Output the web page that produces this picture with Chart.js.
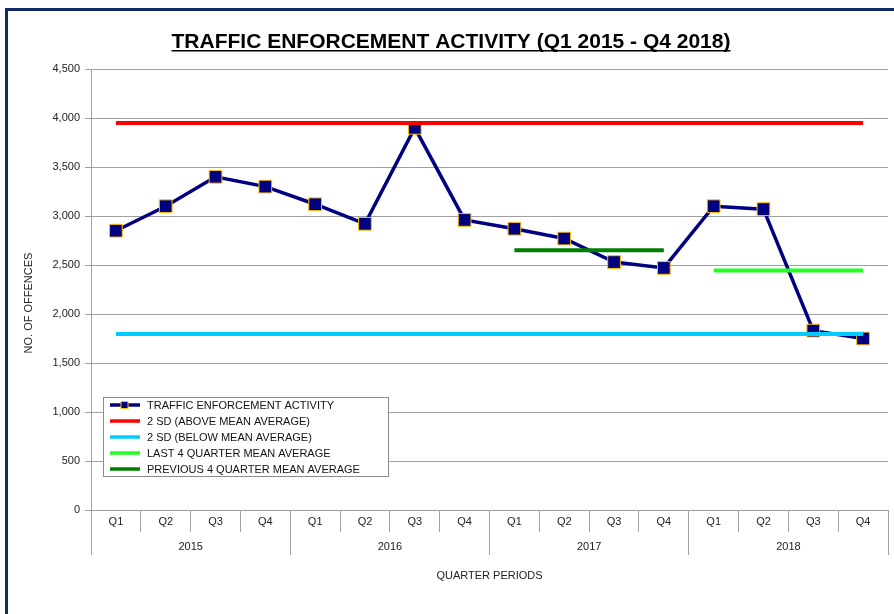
<!DOCTYPE html>
<html>
<head>
<meta charset="utf-8">
<script src="https://cdn.jsdelivr.net/npm/chart.js@4/dist/chart.umd.min.js"></script>
<style>
html, body { margin: 0; padding: 0; background: #fff; }
#wrap { width: 894px; height: 614px; }
</style>
</head>
<body>
<div id="wrap"><canvas id="grafico" width="894" height="614"></canvas></div>
<script>
// datos
const trimestres = ["Q1","Q2","Q3","Q4","Q1","Q2","Q3","Q4","Q1","Q2","Q3","Q4","Q1","Q2","Q3","Q4"];
const anios = ["2015","2016","2017","2018"];
const actividad = [2850,3100,3400,3300,3120,2920,3900,2960,2870,2770,2530,2470,3100,3070,1830,1750];
const sdArriba = [3950,3950,3950,3950,3950,3950,3950,3950,3950,3950,3950,3950,3950,3950,3950,3950];
const sdAbajo = [1795,1795,1795,1795,1795,1795,1795,1795,1795,1795,1795,1795,1795,1795,1795,1795];
const ultimos4 = [null,null,null,null,null,null,null,null,null,null,null,null,2445,2445,2445,2445];
const previos4 = [null,null,null,null,null,null,null,null,2650,2650,2650,2650,null,null,null,null];
const yTicks = [0,500,1000,1500,2000,2500,3000,3500,4000,4500];

const fuente = '"Liberation Sans", Arial, sans-serif';
const gris = "#a0a0a0";

const marco = {
id: "marco",
beforeDraw(chart){
const ctx = chart.ctx;
ctx.save();
ctx.fillStyle = "#fff";
ctx.fillRect(0,0,chart.width,chart.height);
ctx.fillStyle = "#0f2b6e";
ctx.fillRect(5,8,3,chart.height-8);
ctx.fillRect(5,8,chart.width-5,3);
ctx.restore();
},
afterDraw(chart){
const ctx = chart.ctx;
ctx.save();
// titulo subrayado
const titulo = "TRAFFIC ENFORCEMENT ACTIVITY (Q1 2015 - Q4 2018)";
ctx.font = "bold 21px " + fuente;
ctx.fillStyle = "#000";
ctx.textAlign = "center";
ctx.textBaseline = "alphabetic";
ctx.fillText(titulo, 451, 48);
const w = ctx.measureText(titulo).width;
ctx.fillRect(451 - w/2, 50, w, 1.5);

// titulo del eje y
ctx.save();
ctx.translate(29, 303);
ctx.rotate(-Math.PI/2);
ctx.font = "11px " + fuente;
ctx.fillStyle = "#222";
ctx.textBaseline = "middle";
ctx.fillText("NO. OF OFFENCES", 0, 0);
ctx.restore();

// leyenda
const items = chart.data.datasets;
const x0 = 103, y0 = 397, ancho = 285, alto = 79;
ctx.fillStyle = "#fff";
ctx.fillRect(x0,y0,ancho,alto);
ctx.strokeStyle = "#8c8c8c";
ctx.lineWidth = 1;
ctx.strokeRect(x0+0.5,y0+0.5,ancho,alto);
ctx.font = "11px " + fuente;
ctx.textAlign = "left";
ctx.textBaseline = "middle";
items.forEach((ds,i) => {
const y = y0 + 8 + i*16;
ctx.strokeStyle = ds.borderColor;
ctx.lineWidth = 3.5;
ctx.beginPath();
ctx.moveTo(110,y);
ctx.lineTo(140,y);
ctx.stroke();
if(ds.pointRadius > 0){
ctx.fillStyle = ds.pointBackgroundColor;
ctx.fillRect(121,y-3.5,7,7);
ctx.strokeStyle = ds.pointBorderColor;
ctx.lineWidth = 1;
ctx.strokeRect(121,y-3.5,7,7);
}
ctx.fillStyle = "#111";
ctx.fillText(ds.label, 147, y+0.5);
});
ctx.restore();
}
};

const config = {
type: "line",
data: {
labels: trimestres,
datasets: [
{
label: "TRAFFIC ENFORCEMENT ACTIVITY",
data: actividad,
borderColor: "#000080",
borderWidth: 3.5,
pointStyle: "rect",
pointRadius: 9,
pointBackgroundColor: "#000080",
pointBorderColor: "#ffc000",
pointBorderWidth: 1,
order: 5
},
{
label: "2 SD (ABOVE MEAN AVERAGE)",
data: sdArriba,
borderColor: "#ff0000",
borderWidth: 4,
pointRadius: 0,
order: 1
},
{
label: "2 SD (BELOW MEAN AVERAGE)",
data: sdAbajo,
borderColor: "#00ccff",
borderWidth: 4,
pointRadius: 0,
order: 1
},
{
label: "LAST 4 QUARTER MEAN AVERAGE",
data: ultimos4,
borderColor: "#22ff22",
borderWidth: 4,
pointRadius: 0,
order: 1
},
{
label: "PREVIOUS 4 QUARTER MEAN AVERAGE",
data: previos4,
borderColor: "#008000",
borderWidth: 4,
pointRadius: 0,
order: 1
}
]
},
options: {
responsive: false,
animation: false,
layout: { autoPadding: false, padding: { top: 69, left: 10, right: 6, bottom: 0 } },
plugins: {
legend: { display: false },
tooltip: { enabled: false },
title: { display: false }
},
scales: {
x: {
type: "category",
offset: true,
grid: { offset: true, drawOnChartArea: false, tickLength: 22, color: gris, lineWidth: 1 },
border: { display: true, color: gris, width: 1 },
ticks: { padding: -17, maxRotation: 0, autoSkip: false, color: "#222", font: { family: fuente, size: 11 } },
afterFit: s => { s.height = 22; s.paddingLeft = 0; s.paddingRight = 0; }
},
x2: {
type: "category",
labels: anios,
position: "bottom",
weight: 1,
offset: true,
grid: { offset: true, drawOnChartArea: false, tickLength: 23, color: gris, lineWidth: 1 },
border: { display: false },
ticks: { padding: -15, maxRotation: 0, autoSkip: false, color: "#222", font: { family: fuente, size: 11 } },
title: { display: true, text: "QUARTER PERIODS", color: "#222", font: { family: fuente, size: 11 }, padding: { top: 0, bottom: 31 } },
afterFit: s => { s.height = 82; s.paddingLeft = 0; s.paddingRight = 0; }
},
y: {
min: 0,
max: 4500,
afterBuildTicks: s => { s.ticks = yTicks.map(v => ({ value: v })); },
grid: { color: gris, lineWidth: 1, tickLength: 6 },
border: { display: true, color: gris, width: 1 },
ticks: { padding: 5, color: "#222", font: { family: fuente, size: 11 } },
afterFit: s => { s.width = 81; }
}
}
},
plugins: [marco]
};

const ctx = document.getElementById("grafico");
const chart = new Chart(ctx, config);
</script>
</body>
</html>
